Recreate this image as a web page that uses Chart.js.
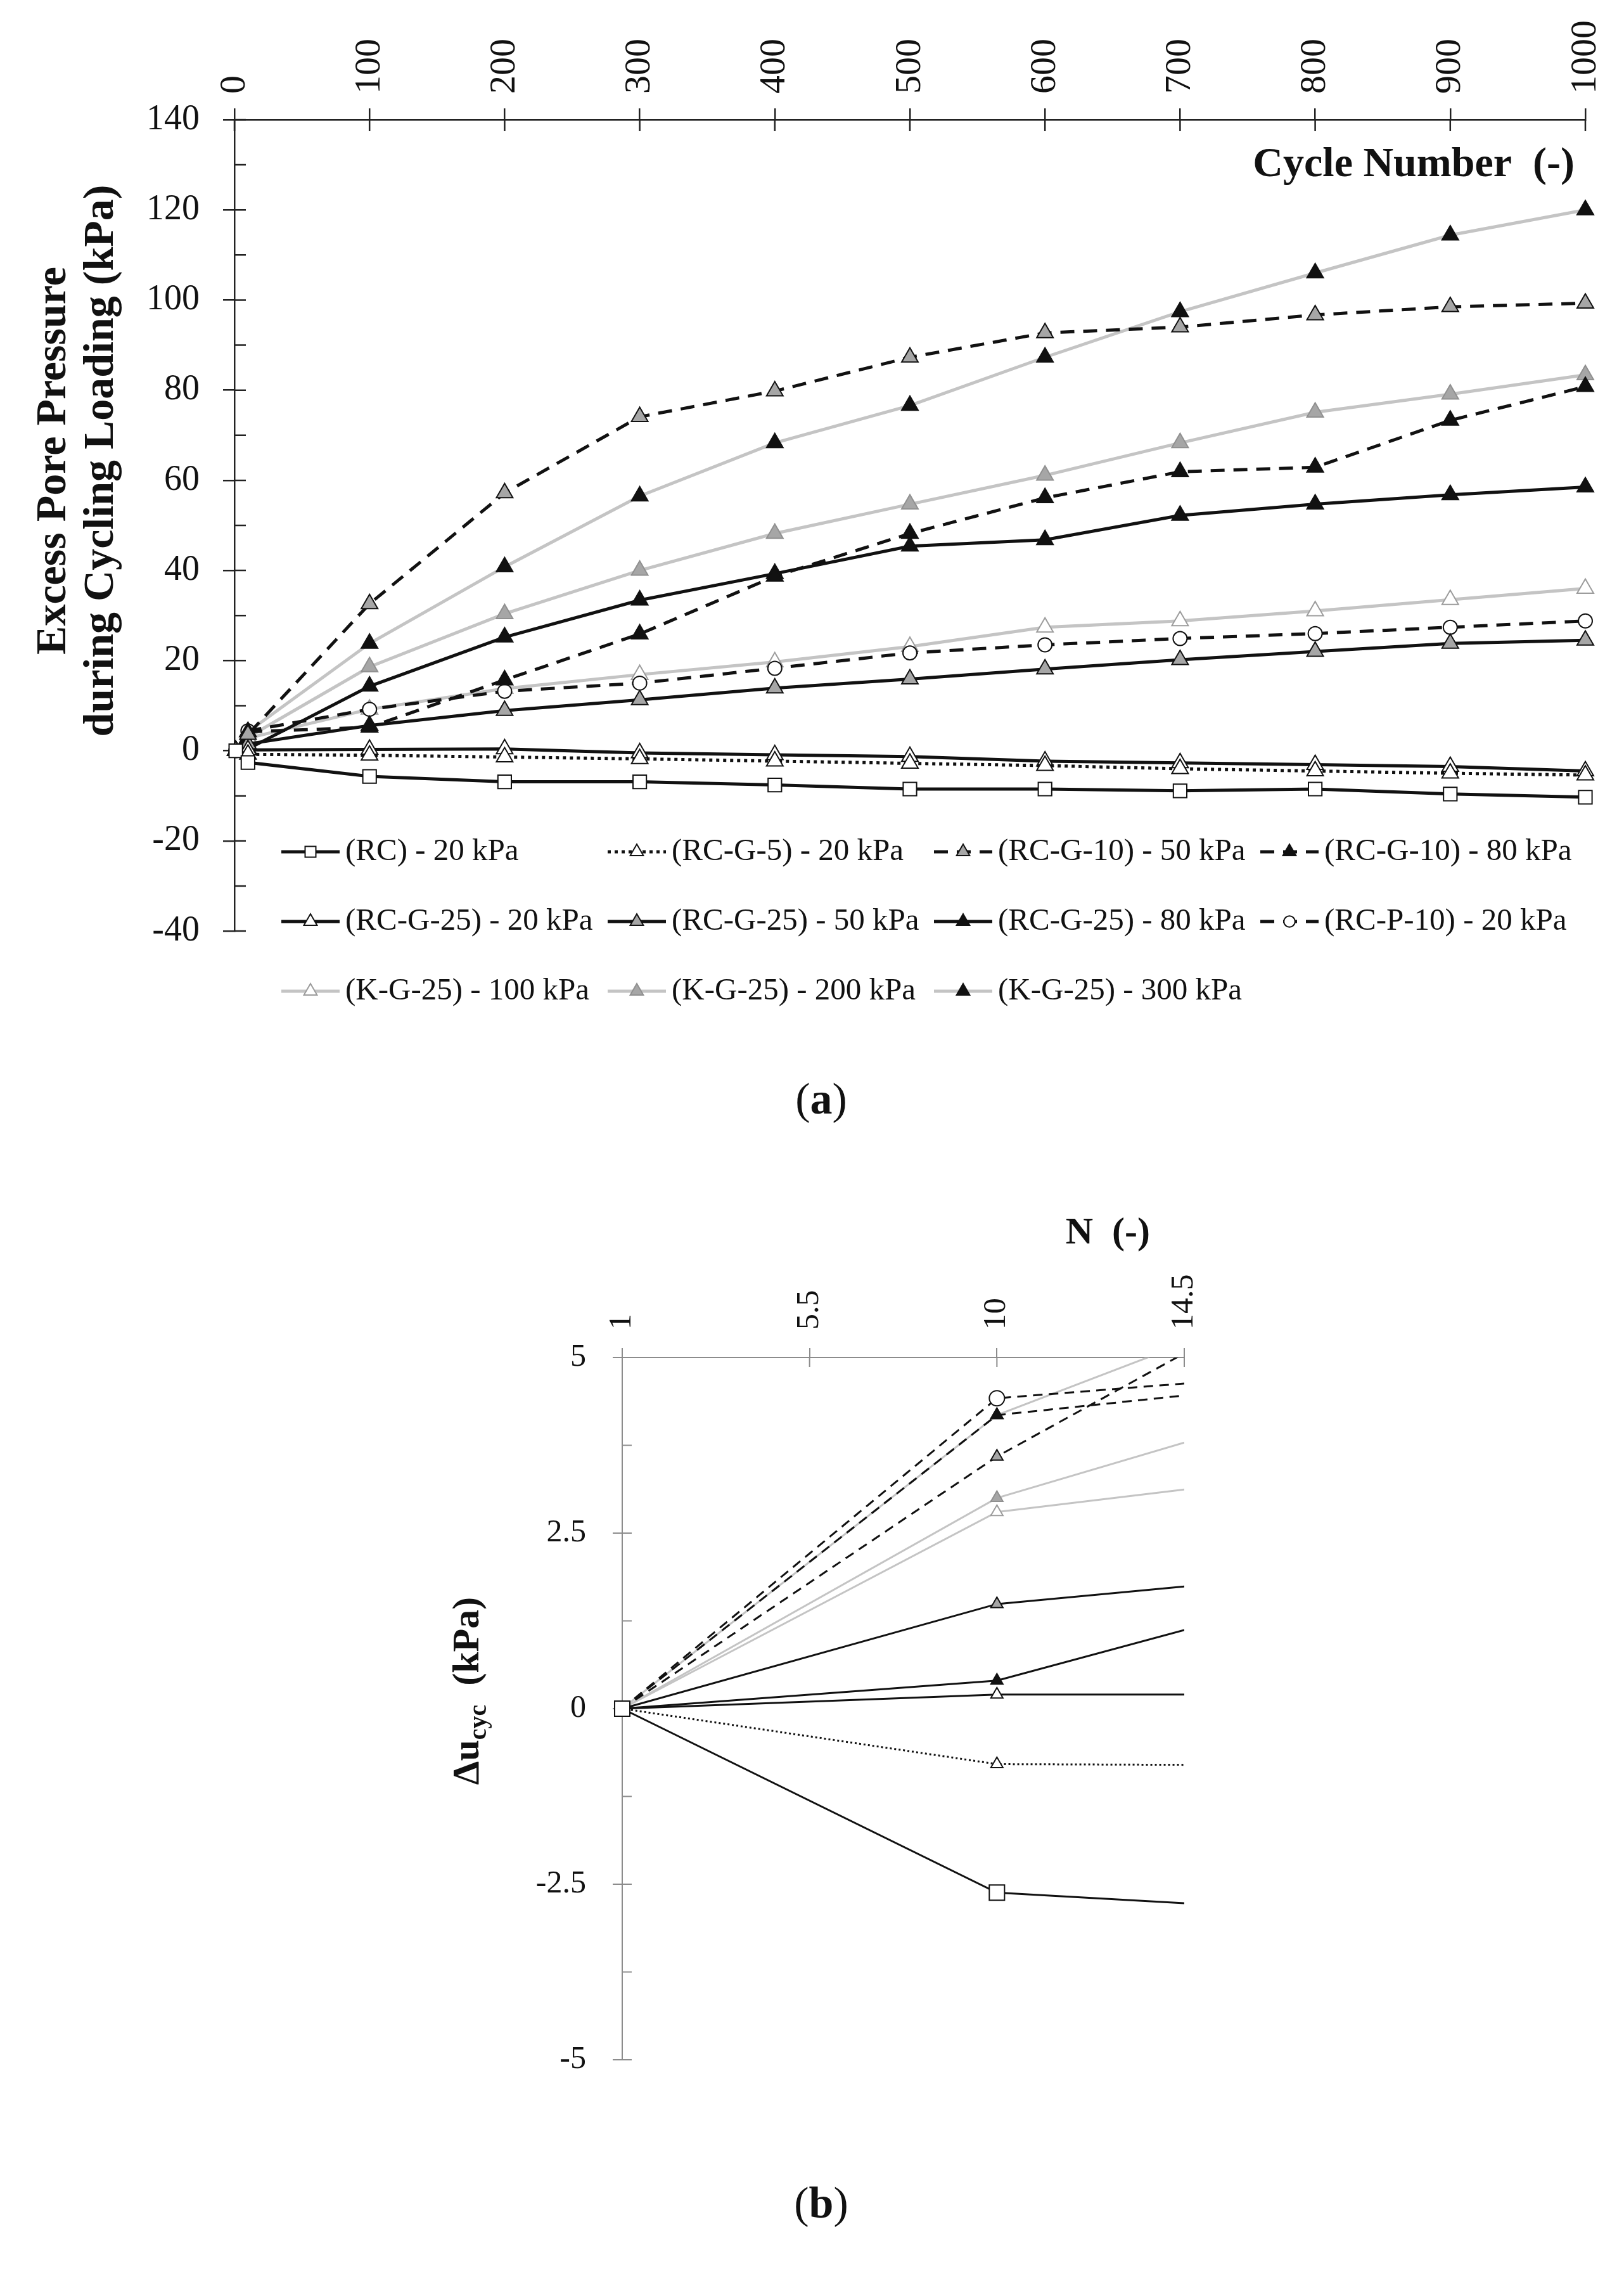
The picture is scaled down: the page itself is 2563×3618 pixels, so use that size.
<!DOCTYPE html>
<html>
<head>
<meta charset="utf-8">
<title>Excess pore pressure during cycling loading</title>
<script src="https://cdn.jsdelivr.net/npm/chart.js@4.4.1/dist/chart.umd.min.js"></script>
<style>
  html, body { margin: 0; padding: 0; background: #fff; }
  body { position: relative; width: 2563px; height: 3618px; overflow: hidden; font-family: "Liberation Serif", serif; }
  canvas { position: absolute; left: 0; }
  #chartA { top: 0; }
  #chartB { top: 1800px; }
  .panel { position: absolute; transform: translate(-50%, -50%); font-size: 70px; color: #111; white-space: nowrap; }
</style>
</head>
<body>
<canvas id="chartA" width="2563" height="1680"></canvas>
<canvas id="chartB" width="2563" height="1818"></canvas>
<div class="panel" style="left:1296px; top:1734px">(<b>a</b>)</div>
<div class="panel" style="left:1296px; top:3476px">(<b>b</b>)</div>
<script>
// axis ticks
const cycleTicks = [0, 100, 200, 300, 400, 500, 600, 700, 800, 900, 1000];
const pressureTicks = [-40, -20, 0, 20, 40, 60, 80, 100, 120, 140];
const nTicks = [1, 5.5, 10, 14.5];
const duTicks = [-5, -2.5, 0, 2.5, 5];

const seriesLabels = [
  '(RC) - 20 kPa', '(RC-G-5) - 20 kPa', '(RC-G-10) - 50 kPa', '(RC-G-10) - 80 kPa',
  '(RC-G-25) - 20 kPa', '(RC-G-25) - 50 kPa', '(RC-G-25) - 80 kPa', '(RC-P-10) - 20 kPa',
  '(K-G-25) - 100 kPa', '(K-G-25) - 200 kPa', '(K-G-25) - 300 kPa'
];

// (a) excess pore pressure (kPa) vs cycle number
const cycles = [1, 10, 100, 200, 300, 400, 500, 600, 700, 800, 900, 1000];
const rc20     = [0, -2.6, -5.7, -6.9, -6.9, -7.6, -8.5, -8.5, -8.9, -8.5, -9.6, -10.3];
const rcG5_20  = [0, -0.8, -1.0, -1.4, -1.8, -2.3, -2.8, -3.3, -4.0, -4.5, -5.0, -5.4];
const rcG10_50 = [0, 3.6, 32.6, 57.2, 74.1, 79.8, 87.3, 92.7, 94.0, 96.7, 98.5, 99.3];
const rcG10_80 = [0, 4.2, 5.2, 15.7, 25.9, 38.7, 48.2, 56.1, 61.9, 62.9, 73.3, 80.8];
const rcG25_20 = [0, 0.2, 0.3, 0.4, -0.5, -0.9, -1.3, -2.3, -2.7, -3.1, -3.5, -4.5];
const rcG25_50 = [0, 1.5, 5.6, 8.9, 11.3, 13.9, 15.9, 18.1, 20.2, 22.0, 23.8, 24.5];
const rcG25_80 = [0, 0.4, 14.3, 25.2, 33.4, 39.3, 45.4, 46.8, 52.2, 54.7, 56.8, 58.5];
const rcP10_20 = [0, 4.4, 9.2, 13.2, 15.0, 18.3, 21.7, 23.5, 24.9, 26.0, 27.4, 28.8];
const kG25_100 = [0, 2.8, 9.2, 13.8, 16.9, 19.7, 23.1, 27.4, 28.8, 31.0, 33.5, 36.0];
const kG25_200 = [0, 3.0, 18.6, 30.4, 40.0, 48.2, 54.7, 61.1, 68.3, 75.1, 79.1, 83.4];
const kG25_300 = [0, 4.2, 23.8, 40.8, 56.5, 68.3, 76.6, 87.3, 97.4, 106.0, 114.4, 120.0];

// (b) change of pore pressure over the first cycles (kPa)
const firstCycles = [1, 10, 14.5];
const dRc20     = [0, -2.62, -2.77];
const dRcG5_20  = [0, -0.79, -0.80];
const dRcG10_50 = [0, 3.59, 5.06];
const dRcG10_80 = [0, 4.18, 4.46];
const dRcG25_20 = [0, 0.20, 0.20];
const dRcG25_50 = [0, 1.49, 1.74];
const dRcG25_80 = [0, 0.40, 1.12];
const dRcP10_20 = [0, 4.42, 4.63];
const dKG25_100 = [0, 2.80, 3.12];
const dKG25_200 = [0, 3.00, 3.79];
const dKG25_300 = [0, 4.18, 5.20];

const INK = '#111111', PALE = '#c4c4c4', MID = '#a6a6a6', WHITE = '#ffffff';
const SERIF = '"Liberation Serif", "Times New Roman", serif';

// line + marker look of every series, same order as the labels
const looks = [
  { line: INK, dash: 'solid', shape: 'rect', fill: WHITE, edge: INK },
  { line: INK, dash: 'dot', shape: 'triangle', fill: WHITE, edge: INK },
  { line: INK, dash: 'dash', shape: 'triangle', fill: MID, edge: INK },
  { line: INK, dash: 'dash', shape: 'triangle', fill: INK, edge: INK },
  { line: INK, dash: 'solid', shape: 'triangle', fill: WHITE, edge: INK },
  { line: INK, dash: 'solid', shape: 'triangle', fill: MID, edge: INK },
  { line: INK, dash: 'solid', shape: 'triangle', fill: INK, edge: INK },
  { line: INK, dash: 'dash', shape: 'circle', fill: WHITE, edge: INK },
  { line: PALE, dash: 'solid', shape: 'triangle', fill: WHITE, edge: '#9c9c9c' },
  { line: PALE, dash: 'solid', shape: 'triangle', fill: MID, edge: '#909090' },
  { line: PALE, dash: 'solid', shape: 'triangle', fill: INK, edge: INK }
];

const sizeA = {
  line: 5, edge: 2, markUpTo: Infinity, clip: false,
  dash: { solid: [], dash: [22, 14], dot: [5, 6] },
  radius: { triangle: 15, rect: 15, circle: 11 }
};
const sizeB = {
  line: 3, edge: 2, markUpTo: 10, clip: { left: 30, top: 0, right: 0, bottom: 0 },
  dash: { solid: [], dash: [15, 10], dot: [3, 4] },
  radius: { triangle: 11, rect: 17, circle: 12 }
};

function buildDatasets(xs, valueSets, size) {
  return valueSets.map((vals, i) => {
    const look = looks[i];
    const r = size.radius[look.shape];
    return {
      label: seriesLabels[i],
      data: xs.map((x, j) => ({ x, y: vals[j] })),
      borderColor: look.line,
      borderWidth: size.line,
      borderDash: size.dash[look.dash],
      pointStyle: look.shape,
      pointRadius: xs.map(x => (x > size.markUpTo ? 0 : r)),
      pointBackgroundColor: look.fill,
      pointBorderColor: look.edge,
      pointBorderWidth: size.edge,
      tension: 0,
      clip: size.clip
    };
  });
}

// ticks that cross the axis line, plus unlabelled minor ticks on the y axis
function tickMarks(inner, color, width) {
  return {
    id: 'tickMarks',
    beforeDatasetsDraw(chart) {
      const { ctx, chartArea: a, scales: { x, y } } = chart;
      ctx.save();
      ctx.strokeStyle = color;
      ctx.lineWidth = width;
      ctx.beginPath();
      x.ticks.forEach(t => {
        const px = x.getPixelForValue(t.value);
        ctx.moveTo(px, a.top);
        ctx.lineTo(px, a.top + inner);
      });
      y.ticks.forEach((t, i) => {
        const py = y.getPixelForValue(t.value);
        ctx.moveTo(a.left, py);
        ctx.lineTo(a.left + inner, py);
        if (i > 0) {
          const pm = y.getPixelForValue((t.value + y.ticks[i - 1].value) / 2);
          ctx.moveTo(a.left, pm);
          ctx.lineTo(a.left + inner, pm);
        }
      });
      ctx.stroke();
      ctx.restore();
    }
  };
}

function axes(xTicks, yTicks, o) {
  const grid = { drawOnChartArea: false, color: o.color, lineWidth: o.width };
  return {
    x: {
      type: 'linear', position: 'top',
      min: xTicks[0], max: xTicks[xTicks.length - 1],
      afterBuildTicks: s => { s.ticks = xTicks.map(v => ({ value: v })); },
      afterFit: s => { s.height = o.top; },
      ticks: { autoSkip: false, minRotation: 90, maxRotation: 90, padding: o.xPad,
               labelOffset: Math.round(o.xFont * 1.2),
               color: INK, font: { family: SERIF, size: o.xFont }, callback: v => String(v) },
      grid: Object.assign({ tickLength: o.tick }, grid),
      border: { color: o.color, width: o.width }
    },
    y: {
      type: 'linear',
      min: yTicks[0], max: yTicks[yTicks.length - 1],
      afterBuildTicks: s => { s.ticks = yTicks.map(v => ({ value: v })); },
      afterFit: s => { s.width = o.left; },
      ticks: { padding: o.yPad, color: INK, font: { family: SERIF, size: o.yFont }, callback: v => String(v) },
      grid: Object.assign({ tickLength: o.tick }, grid),
      border: { color: o.color, width: o.width }
    }
  };
}

const titlesA = {
  id: 'titlesA',
  afterDraw(chart) {
    const { ctx, chartArea: a } = chart;
    ctx.save();
    ctx.fillStyle = INK;
    ctx.font = 'bold 66px ' + SERIF;
    ctx.textAlign = 'right';
    ctx.textBaseline = 'alphabetic';
    ctx.fillText('Cycle Number  (-)', a.right - 17, a.top + 89);
    ctx.font = 'bold 68px ' + SERIF;
    ctx.textAlign = 'center';
    [['Excess Pore Pressure', 103], ['during Cycling Loading (kPa)', 178]].forEach(([txt, bx]) => {
      ctx.save();
      ctx.translate(bx, 727);
      ctx.rotate(-Math.PI / 2);
      ctx.fillText(txt, 0, 0);
      ctx.restore();
    });
    ctx.restore();
  }
};

const legendA = {
  id: 'legendA',
  afterDraw(chart) {
    const { ctx, chartArea: a } = chart;
    chart.data.datasets.forEach((ds, i) => {
      const look = looks[i];
      const x0 = a.left + 74 + (i % 4) * 515;
      const y0 = a.bottom - 125 + Math.floor(i / 4) * 110;
      ctx.save();
      ctx.strokeStyle = ds.borderColor;
      ctx.lineWidth = ds.borderWidth;
      ctx.setLineDash(ds.borderDash);
      ctx.beginPath();
      ctx.moveTo(x0, y0);
      ctx.lineTo(x0 + 92, y0);
      ctx.stroke();
      ctx.setLineDash([]);
      ctx.fillStyle = look.fill;
      ctx.strokeStyle = look.edge;
      ctx.lineWidth = 2;
      const r = sizeA.radius[look.shape] * 0.8;
      Chart.helpers.drawPoint(ctx, { pointStyle: look.shape, radius: r, borderWidth: 2, rotation: 0 }, x0 + 46, y0);
      ctx.fillStyle = INK;
      ctx.font = '49px ' + SERIF;
      ctx.textAlign = 'left';
      ctx.textBaseline = 'middle';
      ctx.fillText(ds.label, x0 + 101, y0);
      ctx.restore();
    });
  }
};

const titlesB = {
  id: 'titlesB',
  afterDraw(chart) {
    const { ctx, chartArea: a } = chart;
    ctx.save();
    ctx.fillStyle = INK;
    ctx.font = 'bold 60px ' + SERIF;
    ctx.textAlign = 'right';
    ctx.textBaseline = 'alphabetic';
    ctx.fillText('N  (-)', a.right - 54, a.top - 180);

    const main = 'bold 60px ' + SERIF, sub = 'bold 40px ' + SERIF;
    ctx.font = main;
    const w1 = ctx.measureText('\u0394u').width;
    const w3 = ctx.measureText('  (kPa)').width;
    ctx.font = sub;
    const w2 = ctx.measureText('cyc').width;
    ctx.translate(755, (a.top + a.bottom) / 2 - 28);
    ctx.rotate(-Math.PI / 2);
    ctx.textAlign = 'left';
    let x = -(w1 + w2 + w3) / 2;
    ctx.font = main; ctx.fillText('\u0394u', x, 0); x += w1;
    ctx.font = sub; ctx.fillText('cyc', x, 12); x += w2;
    ctx.font = main; ctx.fillText('  (kPa)', x, 0);
    ctx.restore();
  }
};

new Chart(document.getElementById('chartA'), {
  type: 'line',
  data: {
    datasets: buildDatasets(cycles,
      [rc20, rcG5_20, rcG10_50, rcG10_80, rcG25_20, rcG25_50, rcG25_80, rcP10_20, kG25_100, kG25_200, kG25_300],
      sizeA)
  },
  options: {
    responsive: false,
    animation: false,
    layout: { padding: { left: 0, right: 61, top: 0, bottom: 211 } },
    plugins: { legend: { display: false }, tooltip: { enabled: false } },
    scales: axes(cycleTicks, pressureTicks, {
      color: '#222', width: 2.5, xFont: 58, yFont: 56, tick: 18, top: 189, left: 370, xPad: 23, yPad: 37
    })
  },
  plugins: [tickMarks(18, '#222', 2.5), titlesA, legendA]
});

new Chart(document.getElementById('chartB'), {
  type: 'line',
  data: {
    datasets: buildDatasets(firstCycles,
      [dRc20, dRcG5_20, dRcG10_50, dRcG10_80, dRcG25_20, dRcG25_50, dRcG25_80, dRcP10_20, dKG25_100, dKG25_200, dKG25_300],
      sizeB)
  },
  options: {
    responsive: false,
    animation: false,
    layout: { padding: { left: 0, right: 694, top: 0, bottom: 368 } },
    plugins: { legend: { display: false }, tooltip: { enabled: false } },
    scales: axes(nTicks, duTicks, {
      color: '#8c8c8c', width: 2, xFont: 50, yFont: 50, tick: 15, top: 342, left: 982, xPad: 29, yPad: 42
    })
  },
  plugins: [tickMarks(15, '#8c8c8c', 2), titlesB]
});
</script>
</body>
</html>
